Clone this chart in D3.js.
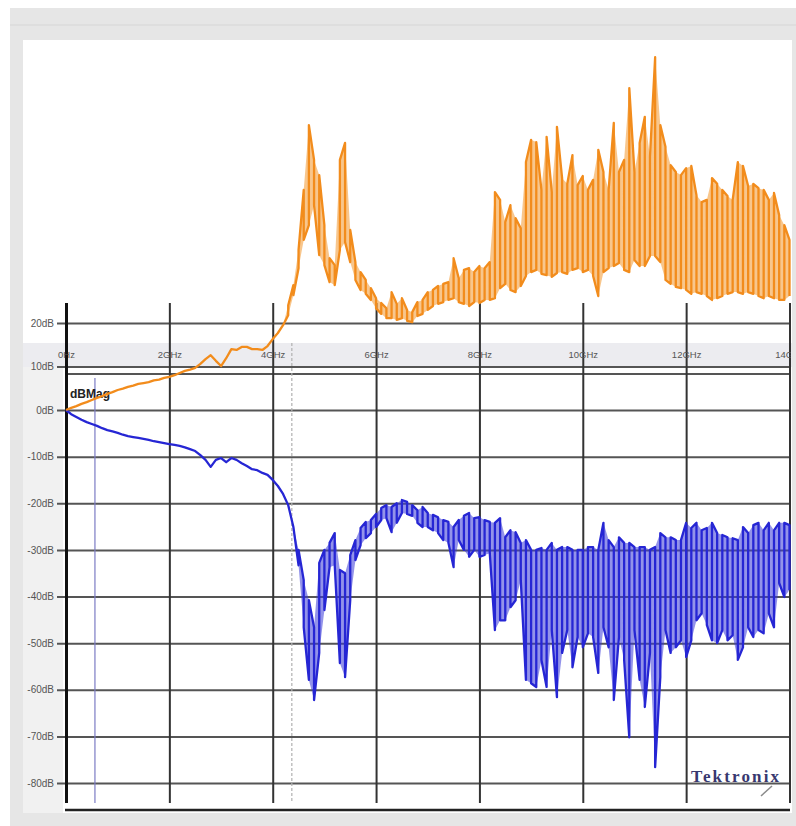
<!DOCTYPE html>
<html>
<head>
<meta charset="utf-8">
<script src="https://cdnjs.cloudflare.com/ajax/libs/d3/7.8.5/d3.min.js"></script>
<style>
  body { margin: 0; background: #fff; }
  svg { display: block; font-family: "Liberation Sans", Arial, sans-serif; }
</style>
</head>
<body>
<svg width="796" height="826"></svg>
<script>
// sample grid, GHz (0.1 GHz steps, 0..14)
const freqGHz = d3.range(0, 141).map(i => i / 10);

const yTicks = [20, 10, 0, -10, -20, -30, -40, -50, -60, -70, -80];
const xTicks = [0, 2, 4, 6, 8, 10, 12, 14];

// orange trace (max / min per sample), dB
const orangeHi = [0,0.5,0.9,1.4,1.8,2.3,2.8,3.2,3.7,4.1,4.6,4.9,5.3,5.6,6.0,6.2,6.4,6.8,7.0,7.4,
  7.6,8.0,8.5,9.0,9.3,9.7,10.6,11.7,12.6,11.3,10.1,11.9,14.0,13.8,14.5,14.5,14.0,14.0,13.8,14.7,
  16.3,17.7,19.5,24.1,28.7,36.8,50.6,65.5,57.5,54.0,42.5,34.9,33.3,57.5,61.4,41.4,34.0,31.7,29.9,28.0,
  25.7,24.6,23.4,27.1,24.4,25.7,23.0,22.5,24.8,25.3,27.1,27.6,28.5,29.0,29.4,34.9,30.3,32.2,32.6,31.7,
  33.1,32.6,34.0,50.1,48.3,43.2,47.1,44.1,41.8,57.0,62.1,61.6,50.6,62.8,50.1,65.1,53.3,52.0,58.6,51.7,
  53.8,50.6,52.9,59.8,54.7,50.6,66.0,54.7,57.5,74.0,54.7,61.4,67.4,58.2,81.1,65.5,60.5,56.3,54.7,54.0,
  55.6,56.1,49.4,47.8,48.3,53.3,52.0,50.6,49.2,48.3,57.0,56.1,51.5,52.0,51.0,50.6,48.3,49.9,44.8,42.5,
  39.1];
const orangeLo = [0,0.5,0.9,1.4,1.8,2.3,2.8,3.2,3.7,4.1,4.6,4.9,5.3,5.6,6.0,6.2,6.4,6.8,7.0,7.4,
  7.6,8.0,8.5,9.0,9.3,9.7,10.6,11.7,12.6,11.3,10.1,11.9,14.0,13.8,14.5,14.5,14.0,14.0,13.8,14.7,
  16.3,17.7,19.5,21.8,26.4,32.6,39.1,42.5,47.1,35.6,33.3,29.4,28.7,36.8,38.6,34.0,29.9,27.6,26.7,25.3,
  23.4,22.1,21.1,21.1,20.7,21.1,20.5,20.2,21.6,22.1,23.0,23.9,24.4,24.8,25.3,25.7,24.8,24.4,23.9,24.8,
  24.6,25.3,25.3,25.7,28.0,29.0,27.6,27.1,28.5,30.8,31.7,32.2,31.3,31.0,30.6,31.5,31.7,31.3,32.2,32.6,
  31.7,32.2,30.8,26.2,31.7,32.6,33.1,33.8,32.2,31.7,34.5,33.1,33.1,35.4,35.4,34.0,29.9,29.0,28.3,28.0,
  27.6,26.7,27.1,26.7,26.2,25.3,25.7,26.2,26.7,27.1,27.1,26.7,27.1,26.7,26.2,25.7,26.2,25.7,25.3,25.3,
  26.2];

// blue trace (max / min per sample), dB
const blueHi = [0,-0.9,-1.5,-2.1,-2.6,-3.0,-3.4,-3.9,-4.3,-4.6,-4.9,-5.3,-5.6,-5.8,-6.0,-6.2,-6.4,-6.7,-6.9,-7.1,
  -7.3,-7.5,-7.7,-8.0,-8.4,-8.8,-9.7,-10.7,-12.2,-10.7,-10.3,-11.2,-10.3,-10.7,-11.4,-12.0,-12.7,-12.9,-13.5,-13.9,
  -15.0,-16.3,-18.0,-20.4,-25.1,-30.0,-36.5,-40.8,-46.6,-32.8,-30.0,-28.5,-26.4,-34.3,-35.0,-31.1,-27.9,-25.3,-24.0,-23.6,
  -22.3,-21.0,-20.4,-20.8,-20.0,-19.3,-19.7,-20.4,-21.5,-20.8,-22.1,-22.5,-23.0,-23.6,-24.0,-25.1,-23.6,-22.7,-22.1,-23.2,
  -23.0,-23.6,-24.0,-24.2,-23.2,-27.3,-25.8,-26.2,-28.5,-27.9,-30.0,-30.0,-29.6,-30.0,-28.5,-30.0,-29.4,-29.4,-30.0,-30.0,
  -30.0,-29.4,-29.4,-30.0,-24.2,-27.9,-29.4,-27.3,-28.5,-28.5,-29.4,-29.4,-29.4,-30.0,-29.4,-26.4,-27.3,-27.3,-27.9,-27.9,
  -24.2,-25.3,-24.2,-25.8,-25.3,-24.2,-26.4,-26.8,-27.3,-27.5,-27.9,-25.1,-26.4,-24.7,-24.2,-25.8,-24.2,-25.8,-24.2,-24.2,
  -24.7];
const blueLo = [0,-0.9,-1.5,-2.1,-2.6,-3.0,-3.4,-3.9,-4.3,-4.6,-4.9,-5.3,-5.6,-5.8,-6.0,-6.2,-6.4,-6.7,-6.9,-7.1,
  -7.3,-7.5,-7.7,-8.0,-8.4,-8.8,-9.7,-10.7,-12.2,-10.7,-10.3,-11.2,-10.3,-10.7,-11.4,-12.0,-12.7,-12.9,-13.5,-13.9,
  -15.0,-16.3,-18.0,-20.4,-25.1,-33.3,-46.6,-57.9,-62.2,-52.1,-42.9,-33.7,-33.3,-54.3,-57.3,-40.8,-32.2,-29.0,-27.5,-26.4,
  -25.1,-23.6,-23.2,-26.2,-24.2,-22.1,-22.3,-22.7,-24.2,-25.1,-25.1,-25.8,-26.4,-27.9,-28.5,-33.7,-27.9,-30.0,-31.5,-30.0,
  -31.5,-31.1,-30.7,-47.2,-45.1,-45.1,-42.3,-40.8,-36.5,-57.9,-58.6,-59.4,-53.6,-59.4,-47.2,-61.6,-52.1,-47.2,-55.2,-48.7,
  -50.9,-47.9,-48.7,-56.4,-46.6,-50.9,-62.2,-48.7,-53.6,-70.2,-47.2,-57.9,-63.7,-52.1,-76.6,-57.3,-47.2,-52.1,-50.9,-49.4,
  -53.0,-49.4,-45.1,-43.6,-46.1,-49.4,-50.0,-47.2,-49.4,-48.3,-53.6,-50.9,-46.6,-48.7,-47.2,-47.9,-43.6,-46.6,-37.1,-40.1,
  -38.6];

const markerGHz = 0.56;
const dashedGHz = 4.37;

const svg = d3.select('svg');

const x = d3.scaleLinear().domain([0, 14]).range([66, 789.5]);
const y = d3.scaleLinear().domain([-80, 0, 20]).range([783, 410, 323]);

// frame
svg.append('rect').attr('x', 10).attr('y', 8).attr('width', 786).attr('height', 818).attr('fill', '#e6e6e6');
svg.append('rect').attr('x', 10).attr('y', 24).attr('width', 786).attr('height', 2).attr('fill', '#dedede');
svg.append('rect').attr('x', 23).attr('y', 40).attr('width', 769).attr('height', 773).attr('fill', '#fff');
svg.append('rect').attr('x', 23).attr('y', 343).attr('width', 40).attr('height', 470).attr('fill', '#f1f1f1');
svg.append('rect').attr('x', 23).attr('y', 343).attr('width', 769).attr('height', 24).attr('fill', '#ececf0');

// horizontal grid + labels
const yAxisG = svg.append('g')
  .attr('transform', 'translate(57,0)')
  .call(d3.axisLeft(y).tickValues(yTicks).tickSize(-733).tickPadding(3).tickFormat(d => d + 'dB'));
yAxisG.select('.domain').remove();
yAxisG.selectAll('line').attr('stroke', '#555').attr('stroke-width', 2);
yAxisG.selectAll('text').attr('fill', '#555').attr('font-size', 10);

svg.append('line').attr('x1', 66).attr('x2', 790).attr('y1', 374).attr('y2', 374)
  .attr('stroke', '#555').attr('stroke-width', 2);

// vertical grid
const xGridG = svg.append('g')
  .attr('transform', 'translate(0,303)')
  .call(d3.axisBottom(x).tickValues(xTicks).tickSize(500).tickFormat(''));
xGridG.select('.domain').remove();
xGridG.selectAll('line')
  .attr('stroke', d => d === 0 ? '#111' : '#333')
  .attr('stroke-width', d => d === 0 ? 3 : 2);

svg.append('line').attr('x1', 65).attr('x2', 790).attr('y1', 810).attr('y2', 810)
  .attr('stroke', '#222').attr('stroke-width', 2.5);

// x labels in the band (the last one is cut by the plot edge, as in the original)
svg.append('clipPath').attr('id', 'lblclip').append('rect')
  .attr('x', 23).attr('y', 340).attr('width', 768).attr('height', 30);
const xLabG = svg.append('g').attr('clip-path', 'url(#lblclip)')
  .append('g')
  .attr('transform', 'translate(0,351)')
  .call(d3.axisBottom(x).tickValues(xTicks).tickSize(0).tickPadding(0)
    .tickFormat(d => d === 0 ? '0Hz' : d + 'GHz'));
xLabG.select('.domain').remove();
xLabG.selectAll('text').attr('fill', '#555').attr('font-size', 9.5);

// cursor lines
svg.append('line').attr('x1', x(markerGHz)).attr('x2', x(markerGHz)).attr('y1', 378).attr('y2', 803)
  .attr('stroke', '#7b7bc4').attr('stroke-width', 1.2);
svg.append('line').attr('x1', x(dashedGHz)).attr('x2', x(dashedGHz)).attr('y1', 343).attr('y2', 803)
  .attr('stroke', '#b0b0b0').attr('stroke-width', 1.2).attr('stroke-dasharray', '3,2');

svg.append('text').attr('x', 70).attr('y', 398).attr('font-size', 12).attr('font-weight', 'bold')
  .attr('fill', '#222').text('dBMag');

// traces: min/max zigzag per sample
const zig = (hi, lo) => freqGHz.flatMap((f, i) =>
  i % 2 ? [[f, lo[i]], [f, hi[i]]] : [[f, hi[i]], [f, lo[i]]]);
const line = d3.line().x(d => x(d[0])).y(d => y(d[1]));
const area = (hi, lo) => d3.area().x((d, i) => x(freqGHz[i]))
  .y0((d, i) => y(lo[i])).y1((d, i) => y(hi[i]))(freqGHz);

svg.append('path').attr('d', area(blueHi, blueLo)).attr('fill', '#3a3ad8').attr('opacity', 0.55);
svg.append('path').attr('d', line(zig(blueHi, blueLo)))
  .attr('fill', 'none').attr('stroke', '#2626d4').attr('stroke-width', 2.3)
  .attr('stroke-linejoin', 'round');

svg.append('path').attr('d', area(orangeHi, orangeLo)).attr('fill', '#f4a040').attr('opacity', 0.6);
svg.append('path').attr('d', line(zig(orangeHi, orangeLo)))
  .attr('fill', 'none').attr('stroke', '#f28c1c').attr('stroke-width', 2.3)
  .attr('stroke-linejoin', 'round');

// logo
svg.append('text').attr('x', 691).attr('y', 782).attr('font-family', '"Liberation Serif", serif')
  .attr('font-size', 17).attr('font-weight', 'bold').attr('fill', '#38386f')
  .attr('textLength', 88).text('Tektronix');
svg.append('line').attr('x1', 761).attr('y1', 796).attr('x2', 772).attr('y2', 786)
  .attr('stroke', '#8a8a8a').attr('stroke-width', 1.5);
</script>
</body>
</html>
